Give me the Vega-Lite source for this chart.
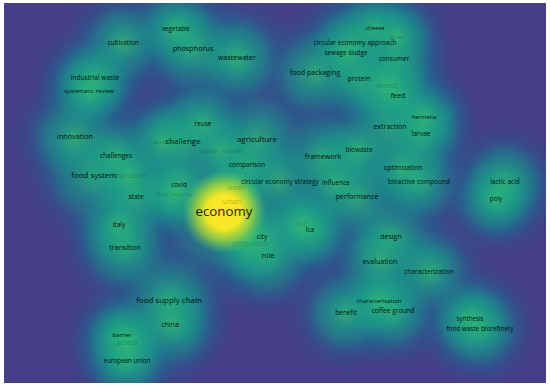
{
  "$schema": "https://vega.github.io/schema/vega-lite/v6.json",
  "width": 550,
  "height": 388,
  "autosize": {"type": "fit", "contains": "padding"},
  "padding": {"left": 4, "top": 3, "right": 4, "bottom": 5},
  "background": "#ffffff",
  "config": {"view": {"fill": "#453e89", "stroke": null}},
  "data": {
    "values": [
      {"label": "economy", "x": 224, "y": 212, "weight": 100, "tier": "normal"},
      {"label": "agriculture", "x": 257, "y": 140, "weight": 35, "tier": "normal"},
      {"label": "challenge", "x": 183, "y": 142, "weight": 35, "tier": "normal"},
      {"label": "food system", "x": 94, "y": 176, "weight": 35, "tier": "normal"},
      {"label": "food supply chain", "x": 169, "y": 301, "weight": 35, "tier": "normal"},
      {"label": "phosphorus", "x": 193, "y": 49, "weight": 26, "tier": "normal"},
      {"label": "food packaging", "x": 315, "y": 73, "weight": 25, "tier": "normal"},
      {"label": "wastewater", "x": 237, "y": 58, "weight": 24, "tier": "normal"},
      {"label": "extraction", "x": 390, "y": 127, "weight": 24, "tier": "normal"},
      {"label": "design", "x": 391, "y": 237, "weight": 24, "tier": "normal"},
      {"label": "performance", "x": 357, "y": 197, "weight": 25, "tier": "normal"},
      {"label": "framework", "x": 323, "y": 157, "weight": 25, "tier": "normal"},
      {"label": "china", "x": 170, "y": 325, "weight": 24, "tier": "normal"},
      {"label": "evaluation", "x": 380, "y": 262, "weight": 25, "tier": "normal"},
      {"label": "feed", "x": 398, "y": 96, "weight": 24, "tier": "normal"},
      {"label": "innovation", "x": 75, "y": 137, "weight": 26, "tier": "normal"},
      {"label": "role", "x": 268, "y": 256, "weight": 26, "tier": "normal"},
      {"label": "transition", "x": 125, "y": 248, "weight": 24, "tier": "normal"},
      {"label": "cultivation", "x": 123, "y": 43, "weight": 17, "tier": "normal"},
      {"label": "consumer", "x": 394, "y": 59, "weight": 18, "tier": "normal"},
      {"label": "circular economy approach", "x": 355, "y": 43, "weight": 18, "tier": "normal"},
      {"label": "lactic acid", "x": 505, "y": 182, "weight": 18, "tier": "normal"},
      {"label": "bioactive compound", "x": 419, "y": 182, "weight": 18, "tier": "normal"},
      {"label": "challenges", "x": 116, "y": 156, "weight": 18, "tier": "normal"},
      {"label": "comparison", "x": 247, "y": 165, "weight": 18, "tier": "normal"},
      {"label": "circular economy strategy", "x": 280, "y": 182, "weight": 17, "tier": "normal"},
      {"label": "influence", "x": 336, "y": 183, "weight": 18, "tier": "normal"},
      {"label": "covid", "x": 179, "y": 185, "weight": 16, "tier": "normal"},
      {"label": "state", "x": 136, "y": 197, "weight": 18, "tier": "normal"},
      {"label": "italy", "x": 119, "y": 225, "weight": 18, "tier": "normal"},
      {"label": "city", "x": 262, "y": 237, "weight": 18, "tier": "normal"},
      {"label": "lca", "x": 310, "y": 230, "weight": 18, "tier": "normal"},
      {"label": "poly", "x": 496, "y": 199, "weight": 16, "tier": "normal"},
      {"label": "characterization", "x": 429, "y": 272, "weight": 19, "tier": "normal"},
      {"label": "coffee ground", "x": 393, "y": 311, "weight": 18, "tier": "normal"},
      {"label": "benefit", "x": 346, "y": 313, "weight": 18, "tier": "normal"},
      {"label": "food waste biorefinery", "x": 480, "y": 329, "weight": 16, "tier": "normal"},
      {"label": "biowaste", "x": 359, "y": 150, "weight": 17, "tier": "normal"},
      {"label": "optimization", "x": 403, "y": 168, "weight": 18, "tier": "normal"},
      {"label": "larvae", "x": 421, "y": 134, "weight": 20, "tier": "normal"},
      {"label": "hermetia", "x": 424, "y": 117, "weight": 9, "tier": "normal"},
      {"label": "protein", "x": 359, "y": 79, "weight": 18, "tier": "normal"},
      {"label": "sewage sludge", "x": 346, "y": 53, "weight": 15, "tier": "normal"},
      {"label": "cheese", "x": 375, "y": 28, "weight": 9, "tier": "normal"},
      {"label": "vegetable", "x": 176, "y": 29, "weight": 14, "tier": "normal"},
      {"label": "industrial waste", "x": 95, "y": 78, "weight": 18, "tier": "normal"},
      {"label": "systematic review", "x": 89, "y": 91, "weight": 12, "tier": "normal"},
      {"label": "reuse", "x": 203, "y": 124, "weight": 17, "tier": "normal"},
      {"label": "characterisation", "x": 379, "y": 301, "weight": 11, "tier": "normal"},
      {"label": "synthesis", "x": 470, "y": 319, "weight": 14, "tier": "normal"},
      {"label": "barrier", "x": 122, "y": 335, "weight": 10, "tier": "normal"},
      {"label": "european union", "x": 127, "y": 361, "weight": 14, "tier": "normal"},
      {"label": "quality", "x": 163, "y": 142, "weight": 12, "tier": "faint"},
      {"label": "organic fertilizer", "x": 221, "y": 151, "weight": 9, "tier": "faint"},
      {"label": "implication", "x": 129, "y": 176, "weight": 17, "tier": "faint"},
      {"label": "food security", "x": 174, "y": 194, "weight": 12, "tier": "faint"},
      {"label": "water", "x": 236, "y": 188, "weight": 17, "tier": "faint"},
      {"label": "urban", "x": 232, "y": 202, "weight": 16, "tier": "faint"},
      {"label": "composition", "x": 250, "y": 244, "weight": 16, "tier": "faint"},
      {"label": "tool", "x": 301, "y": 224, "weight": 15, "tier": "faint"},
      {"label": "grain", "x": 397, "y": 37, "weight": 9, "tier": "faint"},
      {"label": "insect", "x": 387, "y": 86, "weight": 26, "tier": "faint"},
      {"label": "poland", "x": 127, "y": 343, "weight": 16, "tier": "faint"}
    ]
  },
  "encoding": {
    "x": {"field": "x", "type": "quantitative", "scale": {"domain": [4, 546], "nice": false, "zero": false}, "axis": null},
    "y": {"field": "y", "type": "quantitative", "scale": {"domain": [3, 383], "nice": false, "zero": false, "reverse": true}, "axis": null}
  },
  "layer": [
    {
      "mark": {
        "type": "circle", "clip": true, "opacity": 1, "strokeWidth": 0,
        "fill": {"gradient": "radial", "stops": [
          {"offset": 0, "color": "rgba(18,145,140,0.82)"},
          {"offset": 0.42, "color": "rgba(24,122,142,0.64)"},
          {"offset": 0.74, "color": "rgba(38,92,141,0.28)"},
          {"offset": 1, "color": "rgba(60,70,138,0)"}
        ]}
      },
      "encoding": {
        "size": {"field": "weight", "type": "quantitative", "scale": {"domain": [8, 100], "range": [13000, 40000]}, "legend": null}
      }
    },
    {
      "mark": {
        "type": "circle", "clip": true, "opacity": 1, "strokeWidth": 0,
        "fill": {"gradient": "radial", "stops": [
          {"offset": 0, "color": "rgba(55,190,112,0.72)"},
          {"offset": 0.45, "color": "rgba(32,170,130,0.42)"},
          {"offset": 1, "color": "rgba(30,150,140,0)"}
        ]}
      },
      "encoding": {
        "size": {"field": "weight", "type": "quantitative", "scale": {"domain": [8, 100], "range": [4900, 16900]}, "legend": null}
      }
    },
    {
      "transform": [{"filter": {"field": "label", "equal": "economy"}}],
      "mark": {
        "type": "circle", "clip": true, "opacity": 1, "strokeWidth": 0, "size": 7000,
        "fill": {"gradient": "radial", "stops": [
          {"offset": 0, "color": "rgba(253,231,37,1)"},
          {"offset": 0.42, "color": "rgba(245,230,35,1)"},
          {"offset": 0.68, "color": "rgba(185,222,45,0.7)"},
          {"offset": 1, "color": "rgba(110,205,90,0)"}
        ]}
      },
      "encoding": {}
    },
    {
      "mark": {"type": "text", "font": "Open Sans", "align": "center", "baseline": "middle", "color": "#000000"},
      "encoding": {
        "text": {"field": "label"},
        "size": {"field": "weight", "type": "quantitative", "scale": {"domain": [5, 100], "range": [5.5, 13.3]}, "legend": null},
        "opacity": {"field": "tier", "type": "nominal", "scale": {"domain": ["normal", "faint"], "range": [0.88, 0.22]}, "legend": null}
      }
    }
  ],
  "resolve": {"scale": {"size": "independent"}}
}
